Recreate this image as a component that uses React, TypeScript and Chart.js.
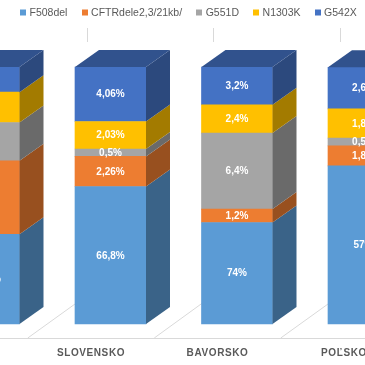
import React, { useEffect, useRef } from "react";
import { Chart, registerables } from "chart.js";

Chart.register(...registerables);

// ---------- data ----------
const categories = ["ČESKO", "SLOVENSKO", "BAVORSKO", "POĽSKO"];
const seriesNames = ["F508del", "CFTRdele2,3/21kb/", "G551D", "N1303K", "G542X"];

// share of each segment in its 100% column
const f508delShare = [34.9, 53.5, 39.5, 61.5];
const cftrShare = [28.6, 11.7, 5.2, 7.8];
const g551dShare = [14.9, 2.9, 29.6, 3.0];
const n1303kShare = [11.8, 10.7, 11.0, 11.4];
const g542xShare = [9.8, 21.2, 14.7, 16.2];

// data-label texts printed on the segments
const f508delLabels = ["70,05%", "66,8%", "74%", "57%"];
const cftrLabels = ["6,4%", "2,26%", "1,2%", "1,8%"];
const g551dLabels = ["1,4%", "0,5%", "6,4%", "0,5%"];
const n1303kLabels = ["3%", "2,03%", "2,4%", "1,8%"];
const g542xLabels = ["2,1%", "4,06%", "3,2%", "2,6%"];

// ---------- styling ----------
const colors = ["#5B9BD5", "#ED7D31", "#A5A5A5", "#FFC000", "#4472C4"];
const DEPTH_X = 24;
const DEPTH_Y = -17;
const FLOOR_FRONT_X = -19.5;
const FLOOR_FRONT_Y = 13.5;
const TEXT_GRAY = "#595959";
const GRID_GRAY = "#d9d9d9";
const FONT_FAMILY = '"Liberation Sans", Arial, sans-serif';

function shade(hex: string, f: number): string {
  const n = parseInt(hex.slice(1), 16);
  const r = Math.round(((n >> 16) & 255) * f);
  const g = Math.round(((n >> 8) & 255) * f);
  const b = Math.round((n & 255) * f);
  return `rgb(${r},${g},${b})`;
}

const shares = [f508delShare, cftrShare, g551dShare, n1303kShare, g542xShare];
const labelSets = [f508delLabels, cftrLabels, g551dLabels, n1303kLabels, g542xLabels];

const floorPlugin = {
  id: "floor3d",
  beforeDatasetsDraw(chart: any) {
    const ctx = chart.ctx;
    const xs = chart.scales.x;
    const bottom = chart.chartArea.bottom;
    ctx.save();
    ctx.strokeStyle = GRID_GRAY;
    ctx.lineWidth = 1;
    ctx.beginPath();
    ctx.moveTo(0, Math.round(bottom + FLOOR_FRONT_Y) + 0.5);
    ctx.lineTo(chart.width, Math.round(bottom + FLOOR_FRONT_Y) + 0.5);
    ctx.stroke();
    for (let k = -1; k < categories.length; k++) {
      const px = xs.getPixelForValue(k + 0.5);
      const fx = px + FLOOR_FRONT_X;
      const fy = bottom + FLOOR_FRONT_Y + 0.5;
      const bx = Math.round(px + 39.5) + 0.5;
      const by = bottom - 29;
      ctx.beginPath();
      ctx.moveTo(fx, fy);
      ctx.lineTo(bx, by);
      ctx.stroke();
      ctx.beginPath();
      ctx.moveTo(bx, 28);
      ctx.lineTo(bx, 42);
      ctx.stroke();
    }
    ctx.restore();
  },
};

const bar3dPlugin = {
  id: "bar3d",
  afterDatasetsDraw(chart: any) {
    const ctx = chart.ctx;
    const n = chart.data.datasets.length;
    ctx.save();
    for (let d = 0; d < n; d++) {
      const meta = chart.getDatasetMeta(d);
      const base = colors[d];
      meta.data.forEach((bar: any) => {
        const p = bar.getProps(["x", "y", "base", "width"], true);
        const L = p.x - p.width / 2;
        const R = p.x + p.width / 2;
        const top = Math.min(p.y, p.base);
        const bot = Math.max(p.y, p.base);
        ctx.fillStyle = shade(base, 0.64);
        ctx.beginPath();
        ctx.moveTo(R, top);
        ctx.lineTo(R + DEPTH_X, top + DEPTH_Y);
        ctx.lineTo(R + DEPTH_X, bot + DEPTH_Y);
        ctx.lineTo(R, bot);
        ctx.closePath();
        ctx.fill();
        if (d === n - 1) {
          ctx.fillStyle = shade(base, 0.72);
          ctx.beginPath();
          ctx.moveTo(L, top);
          ctx.lineTo(L + DEPTH_X, top + DEPTH_Y);
          ctx.lineTo(R + DEPTH_X, top + DEPTH_Y);
          ctx.lineTo(R, top);
          ctx.closePath();
          ctx.fill();
        }
      });
    }
    // data labels
    ctx.fillStyle = "#ffffff";
    ctx.font = `bold 10px ${FONT_FAMILY}`;
    ctx.textAlign = "center";
    ctx.textBaseline = "middle";
    for (let d = 0; d < n; d++) {
      const meta = chart.getDatasetMeta(d);
      const texts = chart.data.datasets[d].valueLabels as string[];
      meta.data.forEach((bar: any, i: number) => {
        const p = bar.getProps(["x", "y", "base"], true);
        ctx.fillText(texts[i], p.x, (p.y + p.base) / 2 + 0.5);
      });
    }
    ctx.restore();
  },
  afterDraw(chart: any) {
    const ctx = chart.ctx;
    const xs = chart.scales.x;
    const bottom = chart.chartArea.bottom;
    ctx.save();
    // category labels
    ctx.fillStyle = TEXT_GRAY;
    ctx.font = `bold 10px ${FONT_FAMILY}`;
    (ctx as any).letterSpacing = "0.6px";
    ctx.textAlign = "center";
    ctx.textBaseline = "middle";
    categories.forEach((c, i) => {
      const px = xs.getPixelForValue(i) + FLOOR_FRONT_X;
      ctx.fillText(c, px, bottom + 29);
    });
    (ctx as any).letterSpacing = "0px";
    // legend
    ctx.font = `10.5px ${FONT_FAMILY}`;
    ctx.textAlign = "left";
    const ds = chart.data.datasets;
    const BOX = 6;
    const BOX_TEXT = 9.3;
    const GAP = 14.3;
    const widths = ds.map((d: any) => ctx.measureText(d.label).width);
    let total = 0;
    widths.forEach((w: number, i: number) => {
      total += BOX_TEXT + w + (i < widths.length - 1 ? GAP : 0);
    });
    let x = 188.5 - total / 2;
    const cy = 12.5;
    ds.forEach((d: any, i: number) => {
      ctx.fillStyle = d.backgroundColor;
      ctx.fillRect(Math.round(x), cy - BOX / 2, BOX, BOX);
      ctx.fillStyle = TEXT_GRAY;
      ctx.fillText(d.label, x + BOX_TEXT, cy + 0.5);
      x += BOX_TEXT + widths[i] + GAP;
    });
    ctx.restore();
  },
};

export default function App() {
  const ref = useRef<HTMLCanvasElement | null>(null);

  useEffect(() => {
    if (!ref.current) return;
    const datasets = seriesNames.map((name, d) => ({
      label: name,
      data: categories.map((_, i) => ({ x: i, y: shares[d][i] })),
      valueLabels: labelSets[d],
      backgroundColor: colors[d],
      borderWidth: 0,
      barThickness: 71,
      clip: false as any,
    }));
    const chart = new Chart(ref.current, {
      type: "bar",
      data: { datasets: datasets as any },
      plugins: [floorPlugin, bar3dPlugin],
      options: {
        animation: false,
        responsive: false,
        layout: { padding: { top: 67, left: 0, right: 0, bottom: 41 } },
        plugins: {
          legend: { display: false },
          tooltip: { enabled: false },
        },
        scales: {
          x: {
            type: "linear",
            display: false,
            offset: false,
            min: 0.12648,
            max: 3.01186,
            stacked: true,
          },
          y: {
            stacked: true,
            min: 0,
            max: 100,
            display: false,
          },
        },
      } as any,
    });
    return () => chart.destroy();
  }, []);

  return (
    <div style={{ position: "fixed", left: 0, top: 0, width: 365, height: 365, background: "#fff" }}>
      <canvas ref={ref} width={365} height={365} style={{ width: 365, height: 365 }} />
    </div>
  );
}
